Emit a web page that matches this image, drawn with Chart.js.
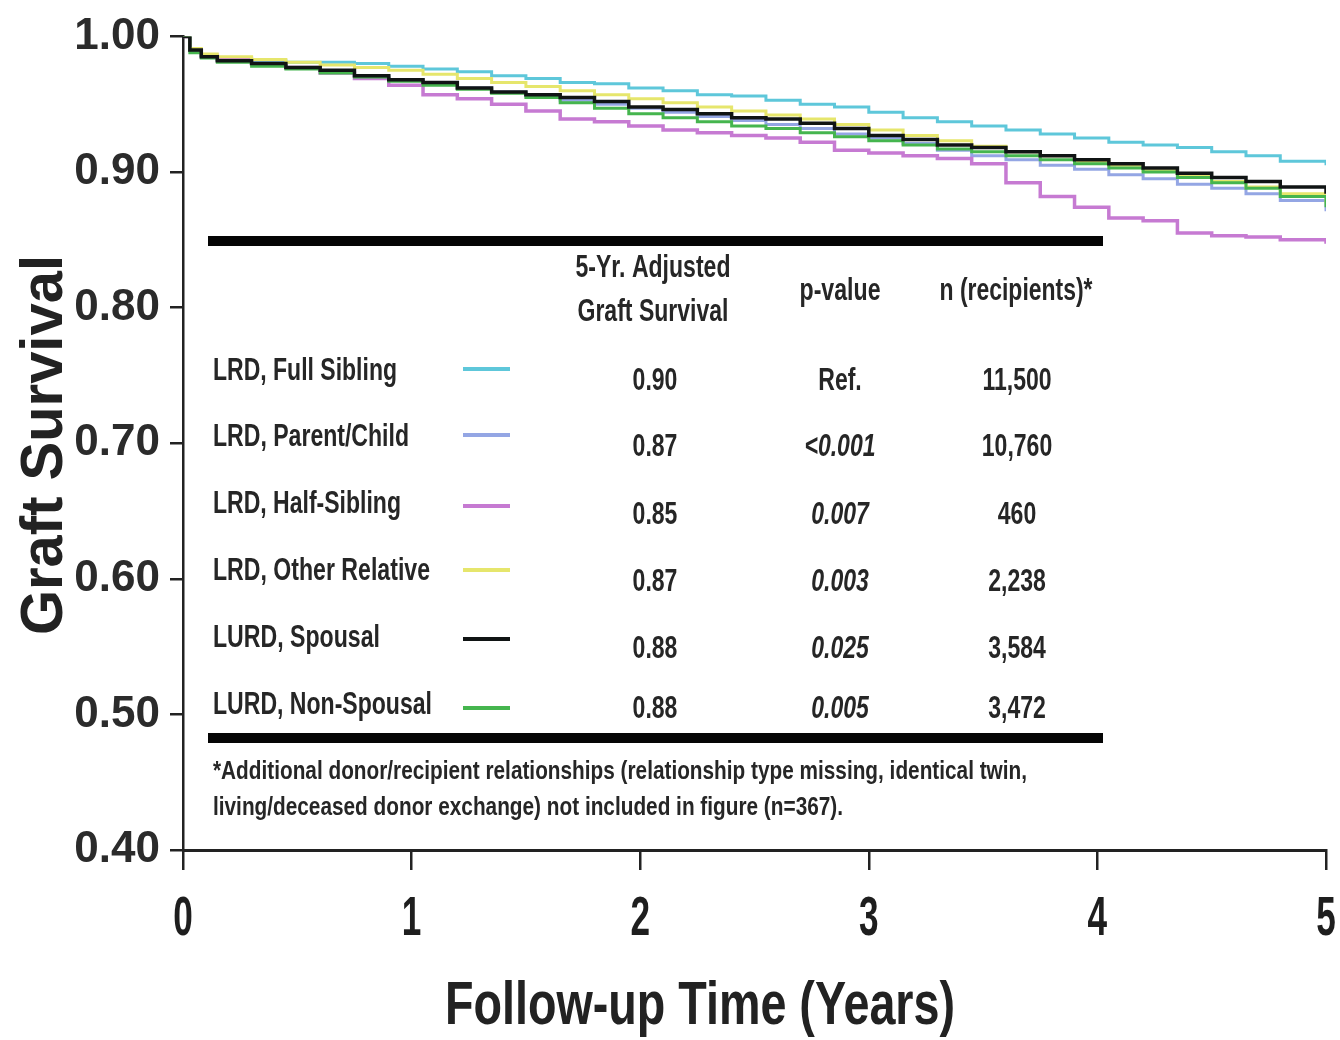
<!DOCTYPE html>
<html>
<head>
<meta charset="utf-8">
<style>
  html, body { margin: 0; padding: 0; background: #fff; }
</style>
<script src="https://cdn.jsdelivr.net/npm/chart.js@4.4.1/dist/chart.umd.min.js"></script>
</head>
<body>
<canvas id="km" width="1340" height="1040"></canvas>
<script>
var years = [0, 0.03, 0.08, 0.15, 0.3, 0.45, 0.6, 0.75, 0.9, 1.05, 1.2, 1.35, 1.5, 1.65, 1.8, 1.95,
  2.1, 2.25, 2.4, 2.55, 2.7, 2.85, 3.0, 3.15, 3.3, 3.45, 3.6, 3.75, 3.9, 4.05, 4.2, 4.35, 4.5, 4.65, 4.8, 5.0];

var fullSibling = [1.000, 0.990, 0.986, 0.984, 0.982, 0.981, 0.981, 0.980, 0.978, 0.976, 0.974, 0.971, 0.969, 0.966, 0.965, 0.962,
  0.960, 0.957, 0.956, 0.953, 0.950, 0.948, 0.944, 0.940, 0.937, 0.934, 0.931, 0.928, 0.925, 0.922, 0.920, 0.918, 0.915, 0.912, 0.908, 0.905];
var parentChild = [1.000, 0.990, 0.986, 0.983, 0.980, 0.977, 0.974, 0.971, 0.968, 0.965, 0.962, 0.959, 0.956, 0.953, 0.950, 0.947,
  0.944, 0.941, 0.938, 0.935, 0.932, 0.928, 0.925, 0.921, 0.916, 0.912, 0.909, 0.905, 0.902, 0.898, 0.895, 0.891, 0.888, 0.884, 0.879, 0.871];
var halfSibling = [1.000, 0.990, 0.986, 0.983, 0.980, 0.977, 0.973, 0.969, 0.964, 0.957, 0.954, 0.950, 0.945, 0.939, 0.937, 0.934,
  0.931, 0.929, 0.927, 0.925, 0.922, 0.916, 0.914, 0.912, 0.910, 0.906, 0.892, 0.882, 0.874, 0.866, 0.864, 0.855, 0.853, 0.852, 0.850, 0.847];
var otherRelative = [1.000, 0.991, 0.987, 0.985, 0.983, 0.981, 0.979, 0.977, 0.975, 0.972, 0.969, 0.966, 0.963, 0.960, 0.957, 0.954,
  0.951, 0.948, 0.945, 0.942, 0.939, 0.935, 0.931, 0.927, 0.923, 0.919, 0.915, 0.912, 0.908, 0.905, 0.901, 0.897, 0.893, 0.889, 0.884, 0.877];
var spousal = [1.000, 0.990, 0.985, 0.982, 0.980, 0.977, 0.975, 0.971, 0.968, 0.966, 0.962, 0.959, 0.957, 0.955, 0.952, 0.948,
  0.946, 0.943, 0.940, 0.939, 0.936, 0.932, 0.927, 0.924, 0.920, 0.918, 0.915, 0.912, 0.909, 0.906, 0.903, 0.899, 0.896, 0.893, 0.889, 0.884];
var nonSpousal = [1.000, 0.988, 0.984, 0.981, 0.978, 0.976, 0.973, 0.970, 0.967, 0.964, 0.961, 0.958, 0.955, 0.951, 0.947, 0.943,
  0.940, 0.937, 0.934, 0.932, 0.929, 0.926, 0.923, 0.920, 0.917, 0.915, 0.912, 0.909, 0.906, 0.903, 0.900, 0.896, 0.892, 0.888, 0.882, 0.874];

var groupNames = ["LRD, Full Sibling", "LRD, Parent/Child", "LRD, Half-Sibling", "LRD, Other Relative", "LURD, Spousal", "LURD, Non-Spousal"];
var groupColors = ["#5ec7da", "#94a6e4", "#c67ad2", "#e6e66c", "#101414", "#45b54e"];
var adjSurvival = ["0.90", "0.87", "0.85", "0.87", "0.88", "0.88"];
var pValues = ["Ref.", "<0.001", "0.007", "0.003", "0.025", "0.005"];
var nRecipients = ["11,500", "10,760", "460", "2,238", "3,584", "3,472"];
var footnote = ["*Additional donor/recipient relationships (relationship type missing, identical twin,",
  "living/deceased donor exchange) not included in figure (n=367)."];
var xTickLabels = ["0", "1", "2", "3", "4", "5"];

var seriesValues = [fullSibling, parentChild, halfSibling, otherRelative, spousal, nonSpousal];
var drawOrder = [5, 4, 3, 2, 0, 1];
var lineWidths = [3, 3, 3.5, 3, 3.5, 3];

var FONT = "'Liberation Sans', Arial, sans-serif";
var INK = '#262626';

function pairs(vals) {
  return years.map(function (t, i) { return { x: t, y: vals[i] }; });
}

var datasets = groupNames.map(function (name, i) {
  return {
    label: name,
    data: pairs(seriesValues[i]),
    borderColor: groupColors[i],
    borderWidth: lineWidths[i],
    stepped: true,
    pointRadius: 0,
    fill: false,
    order: drawOrder[i]
  };
});

// squeeze text horizontally to look like the condensed face of the original
function put(ctx, s, x, y, size, width, align, italic, squeeze) {
  ctx.font = (italic ? 'italic ' : '') + 'bold ' + size + 'px ' + FONT;
  ctx.textAlign = align || 'left';
  var w = width || ctx.measureText(s).width * (squeeze || 0.72);
  ctx.fillText(s, x, y, w);
}

var tablePlugin = {
  id: 'tablePlugin',
  afterDraw: function (chart) {
    var ctx = chart.ctx;
    var xs = chart.scales.x;
    ctx.save();
    ctx.textBaseline = 'middle';

    // thick rules above and below the table
    ctx.fillStyle = '#050505';
    ctx.fillRect(208, 236, 895, 10);
    ctx.fillRect(208, 733, 895, 10);

    ctx.fillStyle = INK;
    put(ctx, '5-Yr. Adjusted', 653, 268, 31, 155, 'center');
    put(ctx, 'Graft Survival', 653, 312, 31, 151, 'center');
    put(ctx, 'p-value', 840, 291, 31, 81, 'center');
    put(ctx, 'n (recipients)*', 1016, 291, 31, 153, 'center');

    var labelY = [371, 437, 504, 571, 638, 705];
    var valueY = [381, 447, 515, 582, 649, 709];
    var swatchY = [369, 435, 506, 570, 639, 708];
    var labelW = [184, 196, 188, 217, 167, 219];
    for (var i = 0; i < groupNames.length; i++) {
      ctx.fillStyle = INK;
      put(ctx, groupNames[i], 213, labelY[i], 32, labelW[i], 'left');
      put(ctx, adjSurvival[i], 655, valueY[i], 32, null, 'center');
      put(ctx, pValues[i], 840, valueY[i], 32, null, 'center', i > 0);
      put(ctx, nRecipients[i], 1017, valueY[i], 32, null, 'center');
      ctx.strokeStyle = groupColors[i];
      ctx.lineWidth = 4;
      ctx.beginPath();
      ctx.moveTo(463, swatchY[i]);
      ctx.lineTo(510, swatchY[i]);
      ctx.stroke();
    }

    ctx.fillStyle = INK;
    put(ctx, footnote[0], 213, 772, 26, 814, 'left');
    put(ctx, footnote[1], 213, 808, 26, 630, 'left');

    // condensed x tick labels
    ctx.fillStyle = '#1e1e1e';
    ctx.textBaseline = 'alphabetic';
    xTickLabels.forEach(function (lab) {
      put(ctx, lab, xs.getPixelForValue(Number(lab)), 935, 55, null, 'center', false, 0.64);
    });

    // axis titles
    ctx.fillStyle = '#222';
    put(ctx, 'Follow-up Time (Years)', 700, 1024, 62, 510, 'center');
    ctx.translate(62, 445);
    ctx.rotate(-Math.PI / 2);
    put(ctx, 'Graft Survival', 0, 0, 60, 380, 'center');
    ctx.restore();
  }
};

new Chart(document.getElementById('km'), {
  type: 'line',
  data: { datasets: datasets },
  options: {
    responsive: false,
    animation: false,
    layout: { padding: { top: 33, right: 14, left: 0, bottom: 0 } },
    plugins: {
      legend: { display: false },
      tooltip: { enabled: false }
    },
    scales: {
      x: {
        type: 'linear',
        min: 0,
        max: 5,
        afterFit: function (s) { s.height = 190; },
        ticks: { stepSize: 1, display: false },
        grid: { drawOnChartArea: false, tickLength: 20, color: '#222', lineWidth: 2.5 },
        border: { display: true, color: '#222', width: 3 }
      },
      y: {
        min: 0.4,
        max: 1.0,
        afterFit: function (s) { s.width = 183; },
        ticks: {
          stepSize: 0.1,
          color: '#2b2b2b',
          padding: 10,
          font: { family: FONT, weight: 'bold', size: 44 },
          callback: function (v) { return v.toFixed(2); }
        },
        grid: { drawOnChartArea: false, tickLength: 13, color: '#222', lineWidth: 2.5 },
        border: { display: true, color: '#222', width: 2.5 }
      }
    }
  },
  plugins: [tablePlugin]
});
</script>
</body>
</html>
